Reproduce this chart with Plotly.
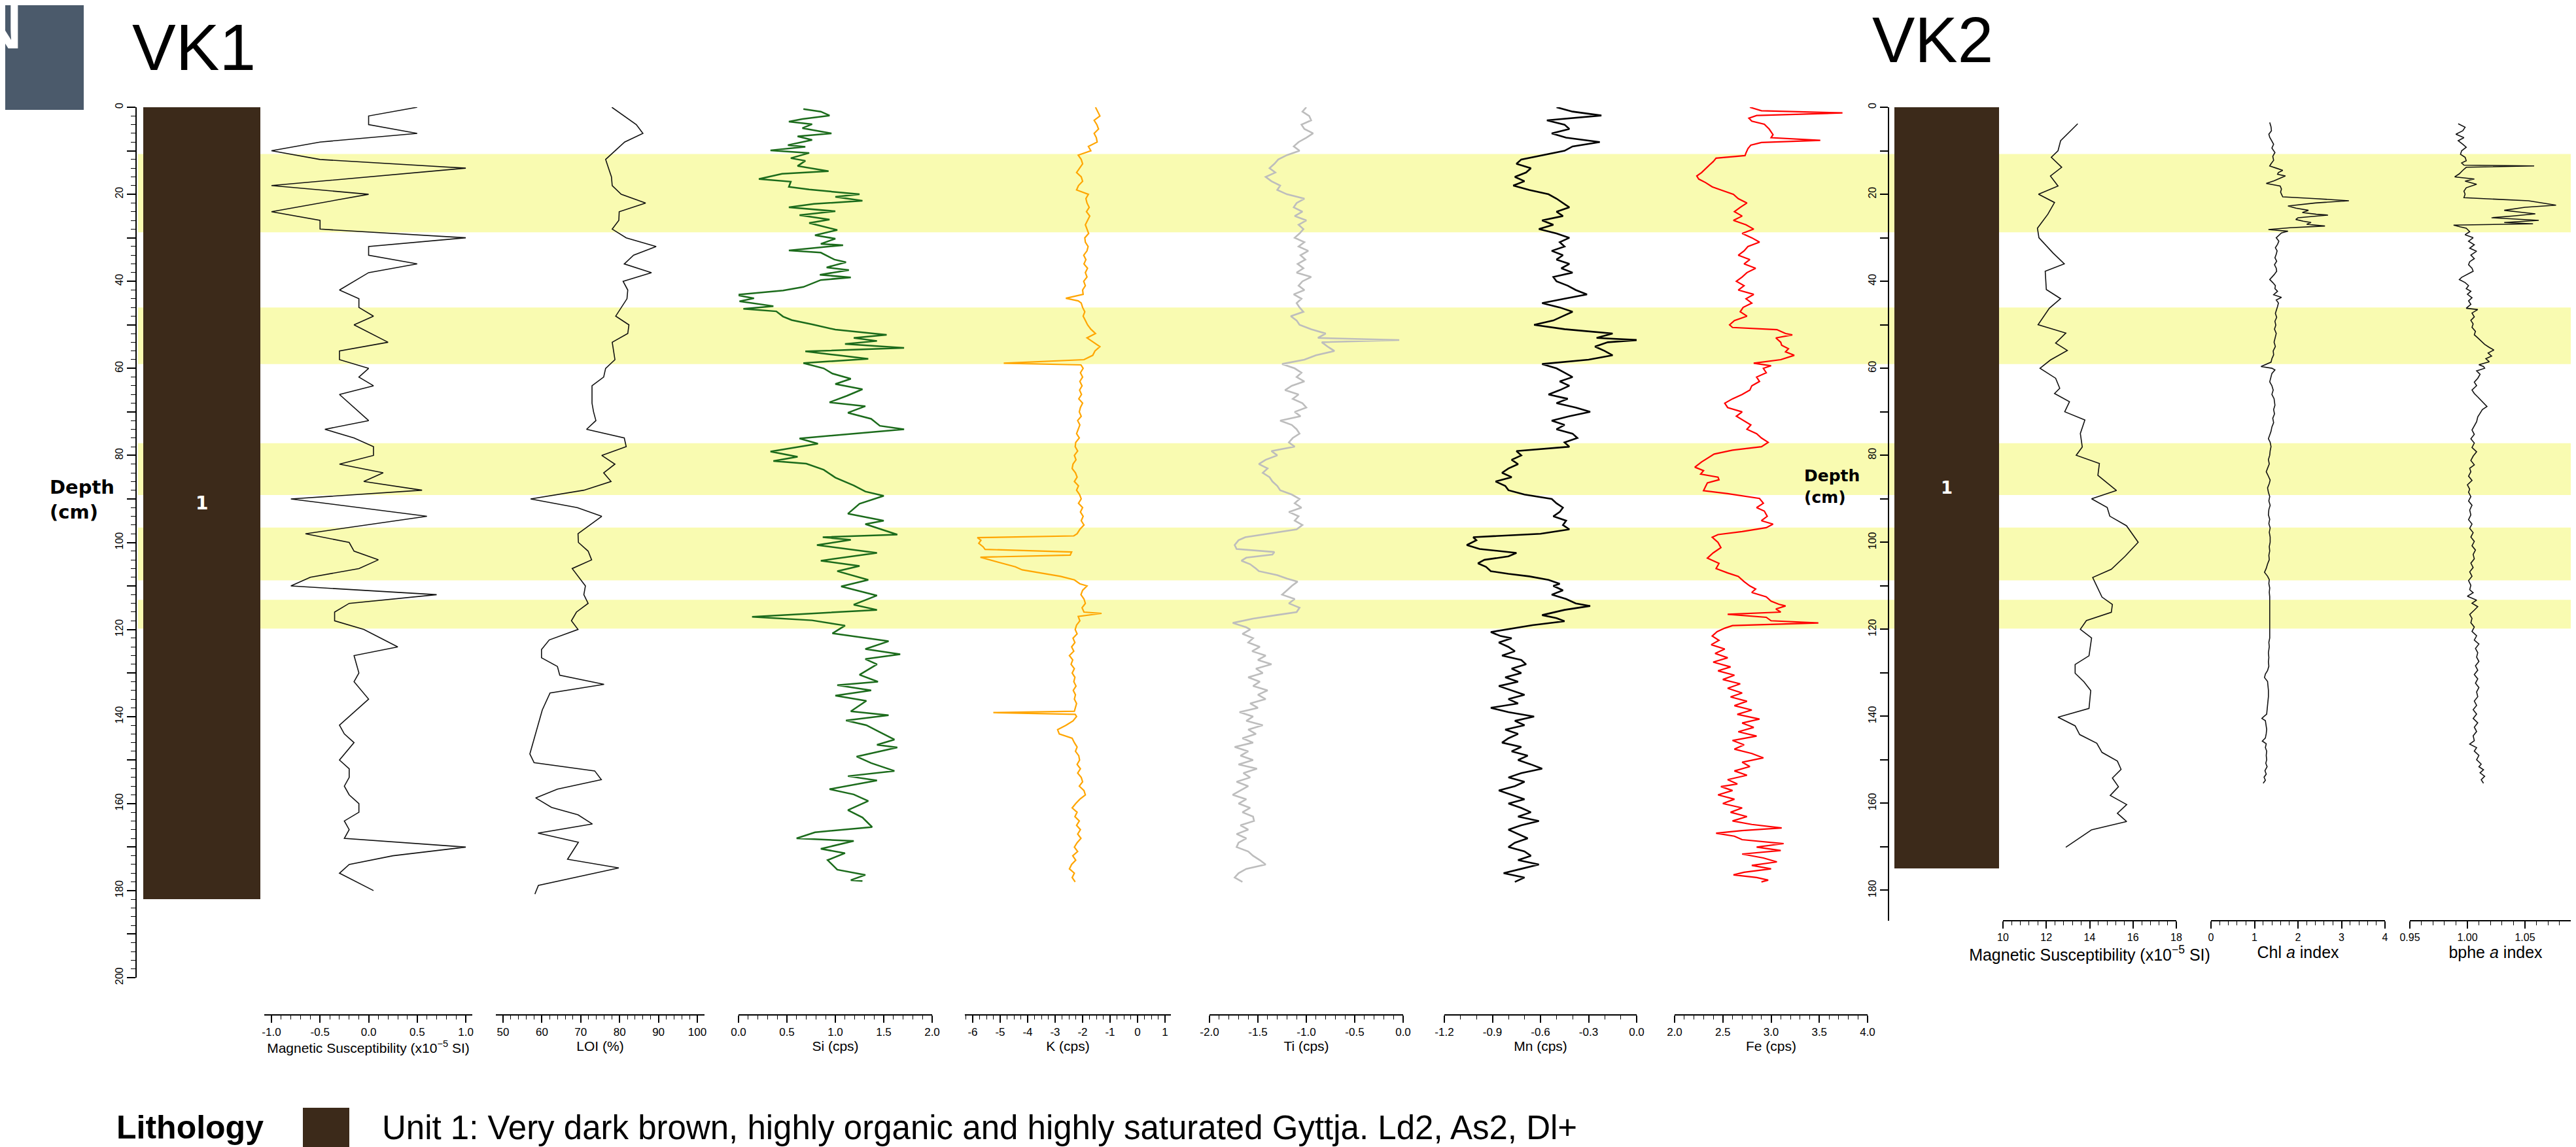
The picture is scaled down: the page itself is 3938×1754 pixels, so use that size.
import plotly.graph_objects as go

# ------------------------------------------------------------------ DATA
# highlighted depth intervals (cm)
band_top = [10.75, 46.0, 77.2, 96.6, 113.2]
band_bottom = [28.75, 59.0, 89.1, 108.7, 119.8]

# lithology (unit 1) base depth per core
lith_vk1_base = [182]
lith_vk2_base = [175]

# ---- VK1 magnetic susceptibility
ms1_depth = [0, 2, 4, 6, 8, 10, 12, 14, 18, 20, 24, 26, 28, 30, 32, 34, 36, 38, 42, 44, 46, 48, 50, 54, 56, 58,
             60, 62, 64, 66, 72, 74, 76, 78, 80, 82, 84, 86, 88, 90, 94, 98, 100, 102, 104, 106, 108, 110, 112,
             114, 116, 118, 120, 124, 126, 130, 132, 136, 142, 144, 146, 150, 152, 154, 156, 158, 160, 162, 164,
             166, 168, 170, 172, 174, 176, 180]
ms1_val = [0.5, 0.0, 0.0, 0.5, -0.5, -1.0, -0.5, 1.0, -1.0, 0.0, -1.0, -0.5, -0.5, 1.0, 0.0, 0.0, 0.5, 0.0, -0.3,
           -0.1, -0.1, 0.05, -0.15, 0.2, -0.3, -0.3, 0.0, -0.1, 0.05, -0.3, 0.0, -0.45, -0.15, 0.05, 0.05, -0.3,
           0.15, -0.05, 0.55, -0.8, 0.6, -0.65, -0.2, -0.15, 0.1, -0.1, -0.6, -0.8, 0.7, -0.2, -0.35, -0.35,
           -0.05, 0.3, -0.15, -0.1, -0.15, 0.0, -0.3, -0.25, -0.15, -0.3, -0.2, -0.2, -0.25, -0.2, -0.1, -0.1,
           -0.25, -0.2, -0.25, 1.0, 0.25, -0.2, -0.3, 0.05]

# ---- VK1 LOI (%)
loi_depth = [0, 4, 6, 8, 12, 16, 18, 20, 22, 24, 26, 28, 30, 32, 34, 36, 38, 40, 42, 44, 48, 50, 52, 54, 58, 60,
             62, 64, 68, 70, 72, 74, 76, 78, 80, 82, 84, 86, 88, 90, 92, 94, 98, 100, 102, 104, 106, 110, 112, 114,
             116, 118, 120, 122.4, 124.6, 126.5, 128.5, 130.5, 132.6, 134.6, 138.5, 142.6, 146.5, 148.6, 150.6,
             152.5, 154.5, 156.7, 158.7, 160.9, 162.6, 164.7, 166.8, 168.9, 172.8, 174.8, 178.8, 180.8]
loi_val = [78.0, 84.3, 86.0, 81.3, 76.4, 77.9, 78.1, 80.4, 86.7, 79.9, 79.8, 78.1, 81.7, 89.4, 83.6, 81.2, 88.2,
           80.9, 82.1, 81.9, 79.0, 82.4, 82.1, 78.1, 78.8, 76.4, 75.9, 72.9, 72.9, 73.3, 73.9, 71.5, 81.2, 81.7,
           75.4, 78.8, 75.9, 77.8, 70.8, 57.1, 69.1, 75.4, 69.3, 69.4, 71.9, 72.8, 67.8, 71.2, 70.8, 71.9, 68.9,
           67.6, 69.3, 61.9, 59.9, 59.9, 64.0, 64.6, 76.0, 62.1, 60.1, 58.8, 57.6, 56.9, 58.0, 73.6, 75.3, 64.0,
           58.4, 62.5, 69.3, 73.0, 59.0, 69.4, 66.6, 79.8, 59.1, 58.2]

# ---- VK1 Si (cps)
si_depth = [0.4, 1.0, 1.9, 2.7, 3.3, 3.9, 4.8, 6.0, 6.7, 7.5,
            8.7, 9.1, 9.9, 10.5, 11.7, 12.3, 13.5, 14.1, 14.7, 15.3,
            16.5, 17.1, 18.3, 18.9, 19.5, 20.0, 20.6, 21.5, 22.2, 23.0,
            23.9, 24.8, 25.8, 26.6, 28.2, 29.4, 30.2, 31.4, 31.7, 32.9,
            33.4, 35.0, 35.6, 36.8, 37.4, 38.5, 39.1, 39.7, 41.3, 42.1,
            43.1, 43.9, 44.6, 45.7, 46.3, 46.9, 48.1, 48.9, 49.9, 51.1,
            52.3, 53.0, 53.7, 54.4, 55.3, 56.1, 57.0, 57.8, 58.8, 60.0,
            61.2, 62.4, 63.6, 64.8, 66.3, 67.8, 68.7, 70.2, 71.6, 73.2,
            74.0, 75.2, 76.1, 77.3, 79.1, 80.3, 81.3, 81.9, 83.3, 85.1,
            86.9, 88.3, 89.3, 91.1, 93.4, 95.0, 95.8, 98.2, 98.8, 99.4,
            100.6, 102.4, 104.2, 105.4, 106.6, 108.6, 110.1, 112.2, 114.3, 115.5,
            117.1, 117.9, 119.1, 120.9, 122.7, 124.5, 125.7, 126.8, 128.0, 130.4,
            132.0, 132.8, 134.0, 135.2, 136.4, 138.8, 139.7, 140.9, 142.0, 143.6,
            145.3, 146.5, 147.1, 149.2, 150.7, 152.5, 153.7, 154.7, 156.7, 157.9,
            159.4, 161.5, 163.2, 165.4, 166.6, 168.0, 168.6, 170.4, 171.4, 173.0,
            175.2, 176.4, 177.6, 177.8]
si_val = [0.67, 0.85, 0.94, 0.66, 0.52, 0.76, 0.66, 0.96, 0.61, 0.76,
          0.51, 0.69, 0.33, 0.73, 0.54, 0.69, 0.61, 0.76, 0.93, 0.45,
          0.21, 0.54, 0.52, 0.73, 0.99, 1.25, 1.00, 1.28, 0.78, 0.52,
          1.00, 0.63, 0.94, 0.73, 1.02, 0.79, 1.00, 0.85, 1.08, 0.52,
          0.85, 0.99, 1.11, 0.91, 1.14, 0.84, 1.16, 0.85, 0.67, 0.46,
          -0.03, 0.16, 0.01, 0.36, 0.05, 0.39, 0.46, 0.55, 0.76, 1.00,
          1.53, 1.19, 1.43, 1.10, 1.71, 0.69, 1.03, 1.34, 0.67, 0.88,
          0.97, 1.16, 1.00, 1.28, 1.12, 0.94, 1.31, 1.13, 1.37, 1.46,
          1.71, 1.06, 0.63, 0.82, 0.33, 0.61, 0.36, 0.70, 0.88, 1.00,
          1.19, 1.31, 1.50, 1.25, 1.13, 1.50, 1.31, 1.64, 0.87, 1.16,
          0.81, 1.43, 0.85, 1.25, 1.02, 1.34, 1.06, 1.43, 1.19, 1.43,
          0.14, 0.76, 1.10, 0.97, 1.55, 1.31, 1.67, 1.31, 1.43, 1.25,
          1.44, 1.02, 1.37, 1.00, 1.32, 1.16, 1.55, 1.11, 1.32, 1.46,
          1.61, 1.43, 1.64, 1.22, 1.37, 1.61, 1.13, 1.43, 0.94, 1.19,
          1.34, 1.13, 1.28, 1.38, 0.79, 0.60, 1.19, 0.85, 1.10, 0.92,
          1.02, 1.31, 1.16, 1.28]

# ---- VK1 K (cps)
k_depth = [0, 1, 2, 3, 4, 5, 6, 7, 8, 9, 10,
           11, 12, 13, 14, 15, 16, 17, 18, 19, 20,
           21, 22, 23, 24, 25, 26, 27, 28, 29, 30,
           31, 32, 33, 34, 35, 36, 37, 38, 39, 40,
           41, 42, 43, 43.9, 44.5, 45,
           46, 47, 48, 49, 50, 51, 52, 53, 54, 55, 56, 57, 58,
           58.8, 59.2,
           60, 61, 62, 63, 64, 65, 66, 67, 68, 69,
           70, 71, 72, 73, 74, 75, 76, 77, 78, 79,
           80, 81, 82, 83, 84, 85, 86, 87, 88, 89,
           90, 91, 92, 93, 94, 95, 96, 97, 98,
           98.5, 98.9, 99.5, 100.2, 101, 101.6, 102.2, 102.9, 103.4, 104.5, 105.6, 106.3, 107, 107.8, 108.6,
           109.5, 110,
           111, 112, 113, 114, 115, 116,
           116.3, 117,
           118, 119, 120, 121, 122, 123, 124, 125, 126, 127, 128, 129, 130, 131, 132, 133, 134, 135, 136, 137, 138,
           138.8, 139.1, 139.5,
           140, 141, 142, 143, 144, 145, 146, 147, 148, 149,
           150, 151, 152, 153, 154, 155, 156, 157, 158, 159,
           160, 161, 162, 163, 164, 165, 166, 167, 168, 169,
           170, 171, 172, 173, 174, 175, 176, 177, 178]
k_val = [-1.53, -1.45, -1.37, -1.58, -1.48, -1.42, -1.58, -1.50, -1.47, -1.79, -1.70,
         -2.16, -2.05, -2.00, -2.12, -2.22, -2.05, -2.00, -2.15, -2.22, -1.79,
         -1.88, -1.84, -1.76, -1.86, -1.74, -1.82, -1.90, -1.84, -1.78, -1.92,
         -1.90, -1.80, -1.84, -1.96, -1.88, -1.95, -1.82, -1.90, -1.84, -1.96,
         -1.90, -2.00, -1.98, -2.61, -2.16, -2.05,
         -2.00, -1.92, -1.98, -1.90, -1.82, -1.70, -1.53, -1.84, -1.60, -1.37, -1.55, -1.63, -1.95,
         -4.87, -2.06,
         -1.98, -2.08, -2.00, -2.10, -2.02, -2.11, -2.04, -2.14, -2.00, -2.08,
         -2.12, -2.05, -2.18, -2.10, -2.16, -2.22, -2.12, -2.25, -2.27, -2.18,
         -2.30, -2.24, -2.35, -2.38, -2.26, -2.20, -2.30, -2.15, -2.22, -2.11,
         -2.05, -2.15, -2.00, -2.08, -1.98, -2.05, -1.95, -2.10, -2.20,
         -2.32, -5.83, -5.70, -5.78, -5.62, -5.55, -2.40, -2.45, -5.72, -5.09, -4.45, -4.20, -3.50, -2.80, -2.30,
         -2.10, -1.84,
         -2.00, -2.06, -1.95, -1.90, -2.02, -1.95,
         -1.31, -2.16,
         -2.10, -2.22, -2.27, -2.20, -2.35, -2.28, -2.40, -2.32, -2.48, -2.36, -2.42, -2.30, -2.38, -2.28, -2.32,
         -2.24, -2.34, -2.26, -2.30, -2.22, -2.27,
         -2.30, -5.25, -2.27,
         -2.22, -2.35, -2.60, -2.91, -2.85, -2.38, -2.30, -2.20, -2.26, -2.14,
         -2.11, -2.20, -2.08, -2.18, -2.05, -2.00, -2.12, -1.95, -1.90, -2.10,
         -2.25, -2.38, -2.20, -2.28, -2.12, -2.22, -2.08, -2.18, -2.06, -2.20,
         -2.30, -2.18, -2.36, -2.25, -2.40, -2.48, -2.30, -2.38, -2.27]

# ---- VK1 Ti (cps)
ti_depth = [0, 1, 2, 3, 4, 5, 6, 7, 8, 9, 10,
            11, 12, 13, 14, 15, 16, 17, 18, 19, 20,
            21, 22, 23, 24, 25, 26, 27, 28, 29, 30,
            31, 32, 33, 34, 35, 36, 37, 38, 39, 40,
            41, 42, 43, 44, 45, 46, 47, 48, 49, 50,
            51, 52, 53, 53.5,
            54, 55, 56, 57, 58, 59, 60,
            61, 62, 63, 64, 65, 66, 67, 68, 69, 70,
            71, 72, 73, 74, 75, 76, 77, 78, 79, 80,
            81, 82, 83, 84, 85, 86, 87, 88, 89, 90,
            91, 92, 93, 94, 95, 96, 97, 98,
            98.8, 99.5, 100.6, 101.5, 102.2, 102.8, 103.5, 104.2, 105, 106, 106.6, 107.5, 108.3,
            109, 110, 111, 112, 113, 114, 115, 116,
            116.7, 117.5, 118.5, 119.5,
            120, 121, 122, 123, 124, 125, 126, 127, 128, 129,
            130, 131, 132, 133, 134, 135, 136, 137, 138, 139,
            140, 141, 142, 143, 144, 145, 146, 147, 148, 149,
            150, 151, 152, 153, 154, 155, 156, 157, 158, 159,
            160, 161, 162, 163, 164, 165, 166, 167, 168, 169,
            170, 171, 172, 173, 174, 175, 176, 177, 178]
ti_val = [-1.00, -1.04, -0.97, -0.95, -1.05, -1.02, -0.93, -1.00, -1.08, -1.13, -1.07,
          -1.20, -1.29, -1.33, -1.38, -1.32, -1.42, -1.36, -1.27, -1.30, -1.20,
          -1.02, -1.10, -1.13, -1.04, -1.12, -1.00, -1.08, -1.03, -1.07, -1.12,
          -1.02, -1.08, -0.98, -1.06, -1.01, -1.09, -1.03, -1.10, -0.95, -1.04,
          -1.08, -1.02, -1.13, -1.05, -1.10, -1.07, -1.03, -1.16, -1.10, -1.07,
          -0.95, -0.80, -0.88, -0.04,
          -0.84, -0.78, -0.71, -0.90, -1.02, -1.25, -1.12,
          -1.05, -1.10, -1.02, -1.15, -1.22, -1.08, -1.14, -1.04, -1.00, -1.12,
          -1.06, -1.27, -1.15, -1.10, -1.07, -1.14, -1.18, -1.12, -1.36, -1.30,
          -1.42, -1.49, -1.40, -1.45, -1.38, -1.35, -1.30, -1.27, -1.15, -1.07,
          -1.12, -1.05, -1.18, -1.08, -1.12, -1.04, -1.10, -1.40,
          -1.63, -1.70, -1.74, -1.72, -1.33, -1.35, -1.62, -1.67, -1.58, -1.52, -1.49, -1.30, -1.20,
          -1.09, -1.15, -1.20, -1.25, -1.12, -1.18, -1.07, -1.10,
          -1.31, -1.55, -1.76, -1.62,
          -1.58, -1.66, -1.55, -1.60, -1.48, -1.56, -1.42, -1.50, -1.36, -1.52,
          -1.45, -1.60, -1.48, -1.55, -1.40, -1.50, -1.42, -1.58, -1.50, -1.69,
          -1.55, -1.62, -1.45, -1.60, -1.52, -1.66, -1.55, -1.74, -1.60, -1.68,
          -1.55, -1.70, -1.51, -1.65, -1.58, -1.72, -1.60, -1.68, -1.76, -1.62,
          -1.70, -1.58, -1.66, -1.55, -1.54, -1.68, -1.60, -1.72, -1.62, -1.70,
          -1.72, -1.60, -1.55, -1.48, -1.42, -1.62, -1.70, -1.74, -1.66]

# ---- VK1 Mn (cps)
mn_depth = [0, 1, 1.9,
            3, 4, 5, 6, 7, 8, 9, 10,
            11, 12, 13, 14, 15, 16, 17, 18, 19, 20,
            21, 22, 23, 24, 25, 26, 27, 28, 29, 30,
            31, 32, 33, 34, 35, 36, 37, 38, 39, 40,
            41, 42, 43, 44, 45, 46, 47, 48, 49, 50,
            51, 52, 53, 53.5,
            54, 55, 56, 57, 58, 59, 60,
            61, 62, 63, 64, 65, 66, 67, 68, 69, 70,
            71, 72, 73, 74, 75, 76, 77, 78, 79, 80,
            81, 82, 83, 84, 85, 86, 87, 88, 89, 90,
            91, 92, 93, 94, 95, 96, 97, 98,
            98.8, 99.5, 100.6, 101.5, 102.4, 103.2, 104, 104.8, 105.6, 106.6, 107.2, 107.8, 108.6, 109.5,
            110, 111, 112, 113, 114,
            114.6, 115.5, 116.7, 117.4, 118.1, 119, 120.6, 121.5,
            122, 123, 124, 125, 126, 127, 128, 129, 130, 131,
            132, 133, 134, 135, 136, 137, 138, 139, 140, 141,
            142, 143, 144, 145, 146, 147, 148, 149, 150, 151,
            152, 153, 154, 155, 156, 157, 158, 159, 160, 161,
            162, 163, 164, 165, 166, 167, 168, 169, 170, 171,
            172, 173, 174, 175, 176, 177, 178]
mn_val = [-0.50, -0.40, -0.22,
          -0.56, -0.45, -0.42, -0.53, -0.44, -0.23, -0.40, -0.45,
          -0.59, -0.72, -0.75, -0.66, -0.69, -0.76, -0.70, -0.77, -0.67, -0.55,
          -0.50, -0.46, -0.42, -0.50, -0.46, -0.59, -0.52, -0.61, -0.50, -0.42,
          -0.48, -0.45, -0.53, -0.46, -0.50, -0.42, -0.47, -0.40, -0.52, -0.50,
          -0.43, -0.38, -0.31, -0.45, -0.59, -0.48, -0.40, -0.46, -0.52, -0.64,
          -0.45, -0.15, -0.25, 0.01,
          -0.18, -0.26, -0.20, -0.15, -0.30, -0.59, -0.50,
          -0.45, -0.40, -0.48, -0.42, -0.48, -0.55, -0.43, -0.50, -0.38, -0.29,
          -0.42, -0.53, -0.45, -0.50, -0.40, -0.37, -0.45, -0.42, -0.75, -0.72,
          -0.78, -0.74, -0.80, -0.84, -0.78, -0.88, -0.82, -0.80, -0.70, -0.53,
          -0.50, -0.46, -0.48, -0.52, -0.44, -0.46, -0.42, -0.60,
          -1.02, -1.00, -1.06, -0.98, -0.75, -0.80, -0.95, -0.99, -0.94, -0.91, -0.80, -0.67, -0.55, -0.48,
          -0.52, -0.46, -0.53, -0.44, -0.38,
          -0.29, -0.45, -0.59, -0.50, -0.45, -0.65, -0.91, -0.85,
          -0.78, -0.86, -0.80, -0.76, -0.84, -0.72, -0.69, -0.78, -0.72, -0.82,
          -0.74, -0.86, -0.78, -0.70, -0.80, -0.74, -0.91, -0.80, -0.64, -0.76,
          -0.70, -0.82, -0.74, -0.80, -0.84, -0.72, -0.78, -0.68, -0.74, -0.66,
          -0.59, -0.72, -0.80, -0.70, -0.76, -0.86, -0.78, -0.70, -0.80, -0.72,
          -0.66, -0.74, -0.61, -0.72, -0.80, -0.74, -0.68, -0.76, -0.80, -0.70,
          -0.66, -0.74, -0.61, -0.72, -0.83, -0.70, -0.76]

# ---- VK1 Fe (cps)
fe_depth = [0, 0.8, 1.3, 1.9, 2.5, 3.2, 3.9, 5, 6.3, 7,
            7.6, 8.1, 8.7, 9.5, 10.5, 11.1, 11.7, 12.5, 13.3, 14.1,
            15, 15.8, 16.5, 17.3, 18.3, 19, 20, 21, 22, 23,
            24, 25, 26, 27, 28, 29, 30, 31, 32, 33,
            34, 35, 36, 37, 38, 39, 40, 41, 42, 43,
            44, 45, 46, 47, 48, 49, 50,
            50.6, 51.1, 52, 52.3, 53, 54, 54.7, 55.5, 56.2, 57,
            58, 58.8, 59.4, 60, 61, 62, 63, 64, 65, 66,
            67, 68, 69, 70, 71, 72, 73, 74, 75, 76,
            77, 78, 78.8, 79.7, 80.5, 81.5, 82.7, 83.5, 84.3, 85,
            85.6, 86.3, 87.2, 88.1, 88.8, 89.9, 91, 92, 92.8, 94,
            95, 95.8, 96.6, 97.5, 98.2, 98.8, 100, 101.2, 102.4, 103.6,
            104.8, 106, 107, 107.8, 109, 110, 110.7, 111.5, 112.5, 113.5,
            114.2, 114.6, 115.3, 116, 116.5, 117.2, 118, 118.5, 119.1, 119.7,
            120.5, 121.5, 122.5, 123.5, 124.5, 125.5, 126.5, 127.5, 128.6, 129.5,
            130.5, 131.5, 132.5, 133.5, 134.6, 135.5, 136.5, 137.5, 138.5, 139.5,
            140.6, 141.5, 142.5, 143.5, 144.5, 145.5, 146.5, 147.5, 148.5, 149.5,
            150.5, 151.5, 152.5, 153.5, 154.5, 155.5, 156.1, 157, 158, 159,
            160, 161, 162, 163, 164, 164.8, 165.6, 166.2, 166.8, 167.5,
            168.3, 169.2, 170, 170.8, 171.6, 172.5, 173.4, 174.2, 175, 175.8,
            176.4, 177, 177.6, 178]
fe_val = [2.78, 2.90, 3.74, 2.85, 2.77, 2.80, 2.93, 2.98, 3.02, 3.00,
          3.51, 2.90, 2.79, 2.76, 2.74, 2.73, 2.43, 2.40, 2.36, 2.32,
          2.28, 2.23, 2.25, 2.32, 2.39, 2.48, 2.61, 2.66, 2.75, 2.68,
          2.62, 2.70, 2.61, 2.74, 2.82, 2.70, 2.80, 2.88, 2.76, 2.72,
          2.66, 2.78, 2.72, 2.84, 2.75, 2.70, 2.64, 2.72, 2.66, 2.82,
          2.74, 2.80, 2.71, 2.68, 2.75, 2.62, 2.57,
          2.60, 3.06, 3.15, 3.22, 3.05, 3.10, 3.11, 3.18, 3.15, 3.24,
          3.10, 2.82, 3.00, 2.92, 2.95, 2.85, 2.88, 2.80, 2.78, 2.70,
          2.60, 2.52, 2.55, 2.70, 2.64, 2.72, 2.79, 2.75, 2.85, 2.90,
          2.97, 2.90, 2.60, 2.41, 2.35, 2.28, 2.21, 2.30, 2.27, 2.45,
          2.46, 2.34, 2.32, 2.30, 2.55, 2.88, 2.92, 2.85, 2.93, 2.96,
          2.90, 3.02, 2.95, 2.70, 2.45, 2.39, 2.45, 2.48, 2.40, 2.34,
          2.46, 2.43, 2.55, 2.66, 2.72, 2.78, 2.84, 2.80, 2.95, 3.00,
          3.08, 3.15, 3.05, 3.10, 2.55, 2.95, 3.00, 3.49, 2.60, 2.52,
          2.44, 2.39, 2.46, 2.38, 2.52, 2.42, 2.55, 2.40, 2.58, 2.45,
          2.62, 2.50, 2.68, 2.55, 2.70, 2.58, 2.75, 2.62, 2.80, 2.65,
          2.88, 2.70, 2.82, 2.66, 2.85, 2.60, 2.72, 2.62, 2.80, 2.92,
          2.70, 2.78, 2.62, 2.75, 2.55, 2.65, 2.48, 2.60, 2.45, 2.62,
          2.50, 2.70, 2.58, 2.75, 2.60, 2.80, 3.11, 2.70, 2.43, 2.62,
          2.70, 3.13, 2.85, 3.10, 2.70, 2.92, 3.06, 2.80, 3.00, 2.72,
          2.61, 2.85, 2.97, 2.90]

# ---- VK2 magnetic susceptibility
ms2_depth = [3.8, 7.7, 10.0, 11.5, 13.8, 15.8, 18.1, 20.0, 21.9, 24.6,
             27.8, 30.0, 33.5, 36.0, 37.7, 41.9, 44.0, 46.2, 50.0, 51.9,
             54.2, 55.9, 58.1, 60.0, 62.3, 64.6, 65.8, 67.7, 70.0, 71.9,
             75.0, 78.1, 80.0, 81.9, 84.6, 88.1, 90.0, 92.0, 94.0, 96.2,
             100.0, 103.2, 106.2, 108.1, 112.6, 114.3, 116.1, 118.0, 120.0, 122.0,
             126.1, 128.1, 130.1, 132.1, 134.1, 138.2, 140.2, 142.2, 144.2, 146.2,
             148.3, 150.3, 152.2, 154.2, 156.2, 158.2, 160.3, 162.3, 164.2, 166.1,
             168.5, 170.1]
ms2_val = [13.45, 12.66, 12.54, 12.23, 12.71, 12.19, 12.54, 11.64, 12.38, 12.07,
           11.59, 11.66, 12.31, 12.83, 11.95, 12.00, 12.66, 12.14, 11.62, 12.90,
           12.43, 12.97, 12.19, 11.71, 12.43, 12.62, 12.38, 13.07, 12.85, 13.78,
           13.57, 13.66, 13.38, 14.45, 14.38, 15.24, 14.09, 14.81, 14.93, 15.70,
           16.24, 15.64, 15.00, 14.14, 14.57, 15.05, 15.00, 13.85, 13.57, 14.09,
           13.97, 13.33, 13.33, 13.74, 14.05, 13.97, 12.54, 13.33, 13.54, 14.33,
           14.57, 15.28, 15.45, 15.05, 15.33, 14.95, 15.71, 15.28, 15.71, 14.09,
           13.38, 12.90]

# ---- VK2 Chl a index
chl_depth = [3.5, 4.5, 5.4, 6.2, 6.9, 7.7, 8.5, 9.4, 10.4, 11.3,
             12.2, 13.0, 13.5, 14.0, 14.5, 15.0, 15.4, 15.8, 16.3, 16.9,
             17.5, 18.1, 18.8, 19.5, 20.2, 20.6, 21.0, 21.5, 22.0, 22.7,
             23.2, 23.7, 24.2, 24.6, 24.8, 25.1, 25.4, 25.8, 26.2, 26.5,
             26.9, 27.3, 27.7, 28.1, 28.5, 28.9, 29.2, 30.0, 30.8, 31.5,
             32.3, 33.0, 33.8, 34.6, 35.4, 36.2, 37.0, 37.7, 38.5, 39.2,
             39.6, 40.3, 41.0, 41.7, 42.3, 43.1, 43.7, 44.3, 45.0, 45.8,
             46.6, 47.4, 48.3, 49.2, 50.1, 51.0, 52.0, 53.1, 54.0, 55.0,
             56.0, 56.9, 57.8, 58.6, 59.2, 59.6, 60.0, 60.4, 61.2, 62.0,
             63.1, 64.0, 65.0, 66.0, 67.0, 68.5, 69.5, 70.5, 71.5, 72.5,
             73.5, 74.5, 75.5, 76.2, 77.0, 78.0, 79.0, 80.0, 81.0, 82.0,
             83.0, 83.8, 84.6, 85.7, 86.5, 87.5, 88.5, 89.5, 90.5, 91.5,
             92.5, 93.7, 94.7, 95.7, 96.7, 97.7, 98.8, 100.0, 101.0, 102.0,
             103.0, 104.0, 105.0, 106.0, 106.9, 107.8, 108.6, 109.5, 110.5, 111.5,
             112.5, 113.3, 114.5, 115.5, 116.5, 117.5, 118.5, 120.0, 121.0, 122.0,
             123.0, 124.0, 125.4, 126.5, 127.5, 128.5, 129.5, 130.3, 131.1, 132.0,
             133.0, 134.0, 135.5, 136.5, 137.5, 138.5, 139.5, 140.2, 140.5, 141.0,
             142.0, 143.0, 144.0, 145.0, 145.7, 146.3, 147.2, 148.0, 149.0, 150.0,
             150.8, 151.6, 152.5, 153.3, 154.0, 154.7, 155.4]
chl_val = [1.35, 1.38, 1.39, 1.33, 1.35, 1.40, 1.44, 1.40, 1.47, 1.42,
           1.44, 1.38, 1.35, 1.50, 1.65, 1.55, 1.53, 1.71, 1.60, 1.45,
           1.27, 1.59, 1.62, 1.60, 1.63, 1.65, 2.40, 3.17, 2.40, 1.77,
           1.95, 2.24, 2.10, 2.42, 2.69, 2.30, 2.00, 1.95, 2.12, 2.30,
           2.20, 2.62, 1.82, 1.32, 1.77, 1.62, 1.59, 1.50, 1.56, 1.53,
           1.48, 1.52, 1.50, 1.47, 1.51, 1.46, 1.50, 1.51, 1.45, 1.38,
           1.35, 1.42, 1.48, 1.47, 1.53, 1.44, 1.62, 1.50, 1.55, 1.53,
           1.50, 1.48, 1.51, 1.47, 1.49, 1.46, 1.50, 1.47, 1.45, 1.48,
           1.43, 1.44, 1.40, 1.38, 1.25, 1.15, 1.40, 1.47, 1.40, 1.38,
           1.35, 1.40, 1.43, 1.40, 1.45, 1.47, 1.44, 1.46, 1.42, 1.44,
           1.40, 1.38, 1.35, 1.32, 1.36, 1.38, 1.36, 1.35, 1.32, 1.34,
           1.30, 1.27, 1.31, 1.36, 1.34, 1.30, 1.32, 1.35, 1.33, 1.36,
           1.33, 1.32, 1.35, 1.33, 1.36, 1.34, 1.36, 1.36, 1.34, 1.35,
           1.33, 1.34, 1.30, 1.27, 1.23, 1.30, 1.34, 1.33, 1.35, 1.34,
           1.35, 1.35, 1.34, 1.35, 1.34, 1.35, 1.34, 1.35, 1.34, 1.35,
           1.33, 1.34, 1.32, 1.33, 1.32, 1.33, 1.30, 1.25, 1.23, 1.30,
           1.31, 1.32, 1.32, 1.31, 1.30, 1.29, 1.28, 1.20, 1.17, 1.25,
           1.27, 1.28, 1.27, 1.25, 1.18, 1.27, 1.25, 1.28, 1.27, 1.28,
           1.26, 1.29, 1.24, 1.27, 1.22, 1.25, 1.20]

# ---- VK2 bphe a index
bphe_depth = [3.8, 4.6, 5.4, 6.2, 7.0, 7.7, 8.5, 9.2, 10.0, 10.8,
              11.5, 12.3, 12.8, 13.3, 13.5, 13.8, 14.5, 15.3, 16.0, 16.5,
              17.0, 17.3, 17.7, 18.5, 19.3, 20.0, 20.8, 21.5, 22.0, 22.5,
              23.0, 23.7, 24.1, 24.5, 25.0, 25.4, 26.0, 26.5, 26.8, 27.1,
              27.5, 27.8, 28.6, 29.3, 30.0, 30.8, 31.6, 32.4, 33.1, 34.0,
              34.8, 35.5, 36.2, 37.0, 37.7, 38.5, 39.1, 39.6, 40.3, 41.0,
              41.7, 42.3, 43.0, 43.8, 44.5, 45.3, 46.2, 46.5, 47.3, 48.2,
              49.0, 49.8, 50.6, 51.5, 52.3, 53.0, 53.8, 54.5, 55.2, 55.8,
              56.5, 57.2, 57.8, 58.5, 59.2, 59.6, 60.0, 60.6, 61.4, 62.3,
              63.2, 64.0, 65.0, 65.8, 66.6, 67.4, 68.2, 68.8, 69.5, 70.3,
              71.2, 72.3, 73.2, 74.2, 75.2, 76.2, 77.2, 78.2, 79.2, 80.2,
              81.2, 82.2, 83.0, 83.8, 84.8, 85.8, 86.8, 87.8, 88.5, 89.5,
              90.5, 91.5, 92.6, 93.7, 94.8, 95.8, 96.8, 97.8, 98.8, 99.8,
              100.8, 101.8, 102.8, 103.8, 104.8, 105.8, 106.8, 107.8, 108.8, 109.9,
              110.9, 111.6, 112.4, 113.3, 114.0, 114.8, 115.6, 116.6, 117.5, 118.5,
              119.5, 120.5, 121.5, 122.5, 123.4, 124.4, 125.4, 126.4, 127.4, 128.4,
              129.4, 130.4, 131.4, 132.4, 133.4, 134.4, 135.5, 136.5, 137.5, 138.5,
              139.5, 140.5, 141.5, 142.5, 143.5, 144.5, 145.6, 146.4, 147.2, 148.0,
              149.0, 150.0, 151.0, 151.6, 152.3, 153.0, 153.8, 154.6, 155.4]
bphe_val = [0.992, 0.998, 0.996, 0.990, 0.997, 0.992, 0.996, 0.999, 0.995, 0.994,
            0.998, 0.999, 0.995, 0.997, 1.058, 0.999, 0.996, 0.993, 0.989, 1.006,
            0.998, 1.002, 1.008, 0.999, 0.997, 0.998, 0.997, 1.053, 1.065, 1.077,
            1.050, 1.032, 1.045, 1.059, 1.040, 1.021, 1.062, 1.032, 1.057, 0.988,
            0.994, 0.999, 1.002, 0.998, 1.005, 1.001, 1.006, 1.002, 1.008, 1.003,
            1.006, 1.002, 1.001, 1.004, 1.005, 0.999, 0.995, 0.993, 0.998, 1.001,
            0.999, 1.003, 1.000, 1.004, 1.001, 1.003, 0.999, 1.009, 1.004, 1.006,
            1.003, 1.005, 1.004, 1.007, 1.006, 1.009, 1.012, 1.015, 1.019, 1.023,
            1.018, 1.021, 1.016, 1.019, 1.010, 1.014, 1.015, 1.008, 1.011, 1.009,
            1.006, 1.008, 1.004, 1.006, 1.009, 1.012, 1.015, 1.017, 1.013, 1.011,
            1.009, 1.008, 1.006, 1.004, 1.006, 1.003, 1.006, 1.004, 1.008, 1.005,
            1.003, 1.006, 1.002, 1.003, 1.001, 1.004, 1.000, 1.002, 1.001, 1.003,
            1.001, 1.004, 1.002, 1.003, 1.001, 1.004, 1.002, 1.005, 1.003, 1.006,
            1.004, 1.007, 1.005, 1.006, 1.003, 1.005, 1.002, 1.004, 1.001, 1.003,
            1.002, 1.005, 1.000, 1.008, 1.004, 1.009, 1.006, 1.002, 1.004, 1.003,
            1.006, 1.004, 1.008, 1.006, 1.010, 1.007, 1.009, 1.008, 1.010, 1.007,
            1.009, 1.006, 1.009, 1.007, 1.010, 1.008, 1.009, 1.006, 1.008, 1.005,
            1.008, 1.005, 1.009, 1.006, 1.008, 1.005, 1.006, 1.002, 1.008, 1.006,
            1.010, 1.008, 1.012, 1.010, 1.014, 1.011, 1.015, 1.012, 1.014]

# ---- tick values / labels
vk1_depth_ticks = [0, 10, 20, 30, 40, 50, 60, 70, 80, 90, 100, 110, 120, 130, 140, 150, 160, 170, 180, 190, 200]
vk1_depth_labels = ["0", "", "20", "", "40", "", "60", "", "80", "", "100", "", "120", "", "140", "", "160", "",
                    "180", "", "200"]
vk2_depth_ticks = [0, 10, 20, 30, 40, 50, 60, 70, 80, 90, 100, 110, 120, 130, 140, 150, 160, 170, 180]
vk2_depth_labels = ["0", "", "20", "", "40", "", "60", "", "80", "", "100", "", "120", "", "140", "", "160", "",
                    "180"]
ms1_ticks = [-1.0, -0.5, 0.0, 0.5, 1.0]
ms1_labels = ["-1.0", "-0.5", "0.0", "0.5", "1.0"]
loi_ticks = [50, 60, 70, 80, 90, 100]
loi_labels = ["50", "60", "70", "80", "90", "100"]
si_ticks = [0.0, 0.5, 1.0, 1.5, 2.0]
si_labels = ["0.0", "0.5", "1.0", "1.5", "2.0"]
k_ticks = [-6, -5, -4, -3, -2, -1, 0, 1]
k_labels = ["-6", "-5", "-4", "-3", "-2", "-1", "0", "1"]
ti_ticks = [-2.0, -1.5, -1.0, -0.5, 0.0]
ti_labels = ["-2.0", "-1.5", "-1.0", "-0.5", "0.0"]
mn_ticks = [-1.2, -0.9, -0.6, -0.3, 0.0]
mn_labels = ["-1.2", "-0.9", "-0.6", "-0.3", "0.0"]
fe_ticks = [2.0, 2.5, 3.0, 3.5, 4.0]
fe_labels = ["2.0", "2.5", "3.0", "3.5", "4.0"]
ms2_ticks = [10, 12, 14, 16, 18]
ms2_labels = ["10", "12", "14", "16", "18"]
chl_ticks = [0, 1, 2, 3, 4]
chl_labels = ["0", "1", "2", "3", "4"]
bphe_ticks = [0.95, 1.00, 1.05]
bphe_labels = ["0.95", "1.00", "1.05"]

# ------------------------------------------------------------------ FIGURE
W, H = 3938, 1754


def fx(p):
    return p / W


def fy(p):
    return 1 - p / H


BROWN = "#3c2a1a"
YELLOW = "#f9fbb1"
AX_FONT = "Liberation Sans, Arial, sans-serif"
BOLD_FONT = "DejaVu Sans, Verdana, sans-serif"

fig = go.Figure()

# lithology columns
fig.add_trace(go.Bar(x=[0.5], y=lith_vk1_base, base=[0], width=[1], xaxis="x11", yaxis="y",
                     marker=dict(color=BROWN, line=dict(width=0)), hoverinfo="skip"))
fig.add_trace(go.Bar(x=[0.5], y=lith_vk2_base, base=[0], width=[1], xaxis="x12", yaxis="y2",
                     marker=dict(color=BROWN, line=dict(width=0)), hoverinfo="skip"))

vk1_line_y = 1544
vk2_line_y = 1400
panels = [
    ("x", (396, 714), [-1.074, 1.067], ms1_ticks, ms1_labels, 0.1, -1.0,
     "Magnetic Susceptibility (x10<sup>−5</sup> SI)", ms1_depth, ms1_val, "#111111", 1.6, "y", vk1_line_y, 17, 21),
    ("x2", (750, 1069), [48.15, 101.85], loi_ticks, loi_labels, 2, 50, "LOI (%)", loi_depth, loi_val,
     "#111111", 1.6, "y", vk1_line_y, 17, 21),
    ("x3", (1121, 1417), [0, 2], si_ticks, si_labels, 0.1, 0, "Si (cps)", si_depth, si_val,
     "#1b6b1b", 2.5, "y", vk1_line_y, 17, 21),
    ("x4", (1467, 1782), [-6.286, 1.214], k_ticks, k_labels, 0.25, -6, "K (cps)", k_depth, k_val,
     "#ffa500", 2.2, "y", vk1_line_y, 17, 21),
    ("x5", (1841, 2137), [-2, 0], ti_ticks, ti_labels, 0.1, -2, "Ti (cps)", ti_depth, ti_val,
     "#bdbdbd", 2.6, "y", vk1_line_y, 17, 21),
    ("x6", (2200, 2494), [-1.2, 0], mn_ticks, mn_labels, 0.1, -1.2, "Mn (cps)", mn_depth, mn_val,
     "#000000", 2.6, "y", vk1_line_y, 17, 21),
    ("x7", (2552, 2847), [2, 4], fe_ticks, fe_labels, 0.1, 2, "Fe (cps)", fe_depth, fe_val,
     "#ff0000", 2.2, "y", vk1_line_y, 17, 21),
    ("x8", (3054, 3319), [10, 18], ms2_ticks, ms2_labels, 0.4, 10,
     "Magnetic Susceptibility (x10<sup>−5</sup> SI)", ms2_depth, ms2_val, "#111111", 1.6, "y2", vk2_line_y, 16, 25),
    ("x9", (3372, 3638), [0, 4], chl_ticks, chl_labels, 0.2, 0, "Chl <i>a</i> index", chl_depth, chl_val,
     "#111111", 1.6, "y2", vk2_line_y, 16, 25),
    ("x10", (3676, 3938), [0.95, 1.0989], bphe_ticks, bphe_labels, 0.01, 0.95, "bphe <i>a</i> index",
     bphe_depth, bphe_val, "#111111", 1.6, "y2", vk2_line_y, 16, 25),
]

layout_axes = {}
for (ax, dom, rng, tv, tt, mdt, mt0, title, dep, val, col, lw, ya, liney, tfs, ttfs) in panels:
    fig.add_trace(go.Scatter(x=val, y=dep, xaxis=ax, yaxis=ya, mode="lines",
                             line=dict(color=col, width=lw), hoverinfo="skip"))
    key = "xaxis" if ax == "x" else "xaxis" + ax[1:]
    layout_axes[key] = dict(
        domain=[fx(dom[0]), fx(dom[1])], range=rng, anchor="free", position=fy(liney), side="bottom",
        showline=True, linecolor="black", linewidth=2, mirror=False,
        ticks="outside", ticklen=11, tickwidth=1.5, tickcolor="black",
        tickmode="array", tickvals=tv, ticktext=tt,
        tickfont=dict(family=AX_FONT, size=tfs, color="black"),
        minor=dict(ticks="outside", ticklen=6, tickwidth=1, tickcolor="black", tickmode="linear",
                   tick0=mt0, dtick=mdt, showgrid=False),
        showgrid=False, zeroline=False, automargin=False,
        title=dict(text=title, font=dict(family=AX_FONT, size=ttfs, color="black"), standoff=3),
    )

layout_axes["xaxis11"] = dict(domain=[fx(211), fx(390)], range=[0, 1], anchor="y", visible=False,
                              fixedrange=True)
layout_axes["xaxis12"] = dict(domain=[fx(2888), fx(3048)], range=[0, 1], anchor="y2", visible=False,
                              fixedrange=True)

layout_axes["yaxis"] = dict(
    domain=[fy(1487), fy(156)], range=[200, 0], anchor="free", position=fx(200), side="left",
    showline=True, linecolor="black", linewidth=2, ticks="outside", ticklen=13, tickwidth=1.5,
    tickcolor="black", tickmode="array", tickvals=vk1_depth_ticks, ticktext=vk1_depth_labels, tickangle=-90,
    tickfont=dict(family=AX_FONT, size=16, color="black"),
    minor=dict(ticks="outside", ticklen=7, tickwidth=1, tickcolor="black", tickmode="linear", tick0=0, dtick=2),
    showgrid=False, zeroline=False, automargin=False)
layout_axes["yaxis2"] = dict(
    domain=[fy(1400), fy(156)], range=[187, 0], anchor="free", position=fx(2879), side="left",
    showline=True, linecolor="black", linewidth=2, ticks="outside", ticklen=12, tickwidth=1.5,
    tickcolor="black", tickmode="array", tickvals=vk2_depth_ticks, ticktext=vk2_depth_labels, tickangle=-90,
    tickfont=dict(family=AX_FONT, size=16, color="black"),
    showgrid=False, zeroline=False, automargin=False)

shapes = []
for t, b in zip(band_top, band_bottom):
    shapes.append(dict(type="rect", xref="paper", yref="y", x0=fx(203), x1=1.0, y0=t, y1=b,
                       fillcolor=YELLOW, line=dict(width=0), layer="below"))
shapes.append(dict(type="rect", xref="paper", yref="paper", x0=0, x1=fx(120), y0=fy(160), y1=1.0,
                   fillcolor="#4b5a6b", line=dict(width=0), layer="below"))
shapes.append(dict(type="rect", xref="paper", yref="paper", x0=fx(455), x1=fx(526), y0=fy(1752), y1=fy(1686),
                   fillcolor=BROWN, line=dict(width=0), layer="above"))

annotations = [
    dict(text="N", x=fx(32), y=fy(96), xref="paper", yref="paper", xanchor="right", yanchor="bottom",
         showarrow=False, font=dict(family=AX_FONT, size=130, color="white")),
    dict(text="VK1", x=fx(192), y=fy(64), xref="paper", yref="paper", xanchor="left", yanchor="middle",
         showarrow=False, font=dict(family=AX_FONT, size=100, color="black")),
    dict(text="VK2", x=fx(2852), y=fy(53), xref="paper", yref="paper", xanchor="left", yanchor="middle",
         showarrow=False, font=dict(family=AX_FONT, size=98, color="black")),
    dict(text="<b>Depth</b><br><b>(cm)</b>", x=fx(66), y=fy(756), xref="paper", yref="paper", xanchor="left",
         yanchor="middle", align="left", showarrow=False, font=dict(family=BOLD_FONT, size=29, color="black")),
    dict(text="<b>Depth</b><br><b>(cm)</b>", x=fx(2748), y=fy(736), xref="paper", yref="paper", xanchor="left",
         yanchor="middle", align="left", showarrow=False, font=dict(family=BOLD_FONT, size=25, color="black")),
    dict(text="<b>1</b>", x=0.5, y=91, xref="x11", yref="y", showarrow=False,
         font=dict(family=BOLD_FONT, size=28, color="white")),
    dict(text="<b>1</b>", x=0.5, y=87.5, xref="x12", yref="y2", showarrow=False,
         font=dict(family=BOLD_FONT, size=26, color="white")),
    dict(text="<b>Lithology</b>", x=fx(168), y=fy(1716), xref="paper", yref="paper", xanchor="left",
         yanchor="middle", showarrow=False, font=dict(family=AX_FONT, size=50, color="black")),
    dict(text="Unit 1: Very dark brown, highly organic and highly saturated Gyttja. Ld2, As2, Dl+",
         x=fx(574), y=fy(1716), xref="paper", yref="paper", xanchor="left", yanchor="middle",
         showarrow=False, font=dict(family=AX_FONT, size=51, color="black")),
]

fig.update_layout(
    width=W, height=H, margin=dict(l=0, r=0, t=0, b=0, pad=0), template="none",
    paper_bgcolor="white", plot_bgcolor="rgba(0,0,0,0)", showlegend=False,
    font=dict(family=AX_FONT, color="black"),
    shapes=shapes, annotations=annotations, bargap=0,
    **layout_axes,
)

fig.write_html("out.html")
